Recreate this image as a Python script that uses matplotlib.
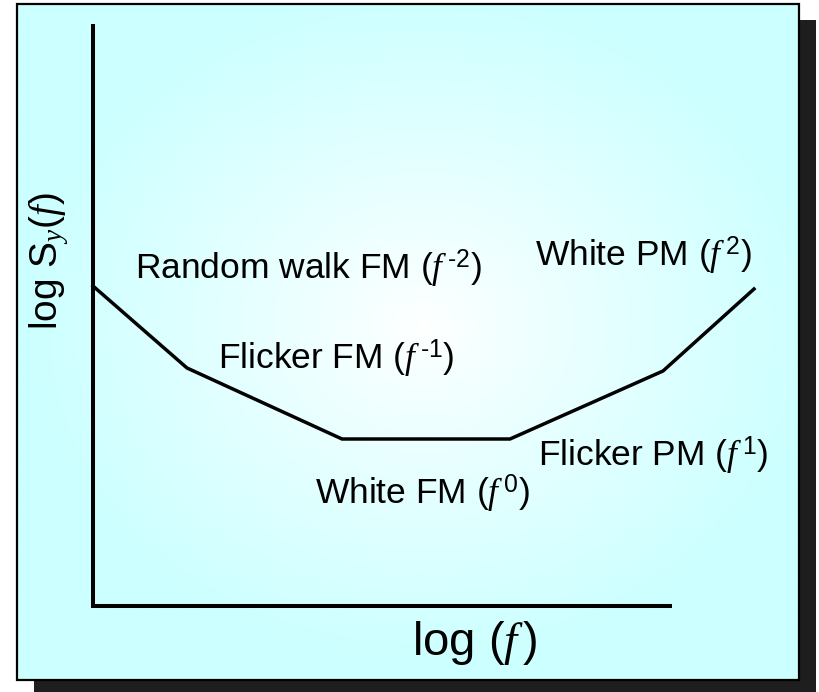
import numpy as np
import matplotlib
matplotlib.use("Agg")
from matplotlib import pyplot as plt
from matplotlib.patches import Rectangle

plt.rcParams['font.family'] = ['Liberation Sans', 'DejaVu Sans']
plt.rcParams['mathtext.fontset'] = 'custom'
plt.rcParams['mathtext.rm'] = 'Liberation Sans'
plt.rcParams['mathtext.it'] = 'Liberation Serif:italic'
plt.rcParams['mathtext.sf'] = 'Liberation Sans'

# corner points of the noise spectrum (log f, log Sy)
log_f = [0.0, 0.94, 2.49, 4.17, 5.70, 6.61]
log_sy = [3.20, 2.38, 1.67, 1.67, 2.35, 3.17]

# noise type labels: text, left x, baseline y
noise_names = [
    r'Random walk FM ($f^{\,\text{-2}}$)',
    r'Flicker FM ($f^{\,\text{-1}}$)',
    r'White FM ($f^{\,\mathrm{0}}$)',
    r'Flicker PM ($f^{\,\mathrm{1}}$)',
    r'White PM ($f^{\,2}$)',
]
name_x = [0.42, 1.25, 2.22, 4.45, 4.42]
name_y = [3.26, 2.36, 1.01, 1.39, 3.39]

fig = plt.figure(figsize=(8.19, 6.92), dpi=100)
ax = fig.add_axes([0, 0, 1, 1])
ax.set_xlim(-0.93, 7.26)
ax.set_ylim(-0.86, 6.06)
ax.axis('off')

# slide panel with drop shadow
bx0, bx1, by0, by1 = -0.76, 7.06, -0.74, 6.02
ax.add_patch(Rectangle((bx0 + 0.17, by0 - 0.16), bx1 - bx0, by1 - by0,
                       facecolor='#1e1e1e', edgecolor='none', zorder=0))

gx, gy = np.meshgrid(np.linspace(bx0, bx1, 400), np.linspace(by0, by1, 340))
cx, cy = 3.3, 2.8
t = np.sqrt(((gx - cx) / 4.0) ** 2 + ((gy - cy) / 3.4) ** 2)
t = np.clip(t, 0, 1) ** 0.9
white = np.array([1.0, 1.0, 1.0])
cyan = np.array([0.8, 1.0, 1.0])
img = white * (1 - t[..., None]) + cyan * t[..., None]
ax.imshow(img, extent=(bx0, bx1, by0, by1), origin='lower',
          aspect='auto', interpolation='bilinear', zorder=1)
ax.add_patch(Rectangle((bx0, by0), bx1 - bx0, by1 - by0,
                       facecolor='none', edgecolor='black', lw=1.6, zorder=2))

# axes drawn as plain lines
ax.plot([0, 0, 5.79], [5.82, 0, 0], color='black', lw=2.9,
        solid_joinstyle='miter', solid_capstyle='butt', zorder=3)

ax.plot(log_f, log_sy, color='black', lw=2.5,
        solid_joinstyle='miter', zorder=3)

for name, x, y in zip(noise_names, name_x, name_y):
    ax.text(x, y, name, fontsize=25.5, ha='left', va='baseline', zorder=4)

ax.text(3.19, -0.49, r'log ($f\,$)', fontsize=34, ha='left', va='baseline', zorder=4)
ax.text(-0.36, 2.76, r'log S$_{\mathit{y}}$($f$)', fontsize=28, rotation=90,
        rotation_mode='anchor', ha='left', va='baseline', zorder=4)

fig.savefig('out.png', dpi=100)
